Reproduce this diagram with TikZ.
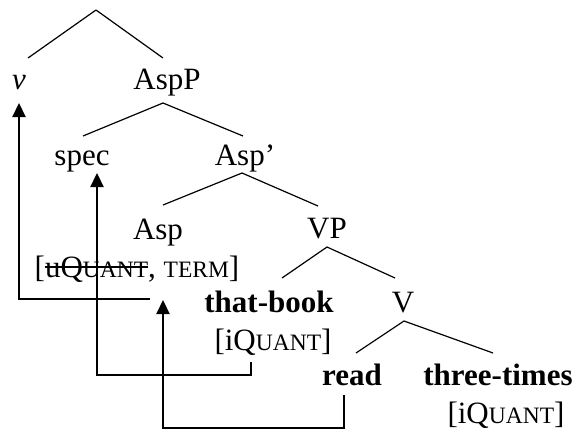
\documentclass[tikz,border=0pt]{standalone}
\usepackage{fontspec}
\setmainfont{Liberation Serif}
\usetikzlibrary{arrows.meta}
\newcommand\smc[1]{{\fontsize{23.5}{25}\selectfont #1}}
\newlength\strklen
\newcommand\strk[1]{\settowidth\strklen{#1}\rlap{\rule[9.4pt]{\strklen}{1.6pt}}#1}

\tikzset{
	lbl/.style={anchor=base, inner sep=0pt, font=\fontsize{31}{35}\selectfont},
	branch/.style={line width=1.2pt},
	mv/.style={line width=2.2pt, -{Triangle[length=14pt,width=13pt]}},
}

\begin{document}
\begin{tikzpicture}[x=1pt, y=-1pt]
		%%%%% START %%%%%
		\useasboundingbox (0, 0) rectangle (580, 431);
		
		\coordinate (top) at (96, 10);
		\node[lbl] (v) at (19, 89) {\textit{v}};
		\node[lbl] (aspP) at (167, 89) {AspP};
		\node[lbl] (spec) at (82, 165) {spec};
		\node[lbl] (aspbar) at (245, 165) {Asp'};
		\node[lbl] (asp) at (158, 239) {Asp};
		\node[lbl] (aspfeat) at (137, 277) {[\strk{uQ\smc{UANT}}, \smc{TERM}]};
		\node[lbl] (vP) at (327, 238) {VP};
		\node[lbl] (thatbook) at (269, 312) {\bfseries that-book};
		\node[lbl] (tbfeat) at (273, 350) {[iQ\smc{UANT}]};
		\node[lbl] (vbar) at (403, 312) {V};
		\node[lbl] (read) at (352, 385) {\bfseries read};
		\node[lbl] (threetimes) at (498, 385) {\bfseries three-times};
		\node[lbl] (ttfeat) at (506, 423) {[iQ\smc{UANT}]};
		
		\draw[branch] (top) -- ([xshift=9pt, yshift=31pt]v.base);
		\draw[branch] (top) -- ([xshift=-4pt, yshift=31pt]aspP.base);
		
		\draw[branch] ([xshift=1pt, yshift=29pt]spec.base) -- ([xshift=-4pt, yshift=-14pt]aspP.base) -- ([xshift=-2pt, yshift=29pt]aspbar.base);
		\draw[branch] ([xshift=5pt, yshift=34pt]asp.base) -- ([xshift=-3pt, yshift=-8pt]aspbar.base) -- ([xshift=-9pt, yshift=32pt]vP.base);
		\draw[branch] ([xshift=13pt, yshift=34pt]thatbook.base) -- ([yshift=-9pt]vP.base) -- ([xshift=-8pt, yshift=34pt]vbar.base);
		\draw[branch] ([xshift=4pt, yshift=32pt]read.base) -- ([xshift=1pt, yshift=-9pt]vbar.base) -- ([xshift=-5pt, yshift=32pt]threetimes.base);
		
		\draw[mv] ([xshift=-119pt, yshift=13pt]thatbook.base) -| ([yshift=-14pt]v.base);
		\draw[mv] ([xshift=-22pt, yshift=-12pt]tbfeat.base) -- ++(0, 13) -| ([xshift=15pt, yshift=-8pt]spec.base);
		\draw[mv] ([xshift=-8pt, yshift=-10pt]read.base) -- ++(0, 33) -| ([xshift=-106pt, yshift=12pt]thatbook.base);
		
		%%%%% END %%%%%
	\end{tikzpicture}
\end{document}
